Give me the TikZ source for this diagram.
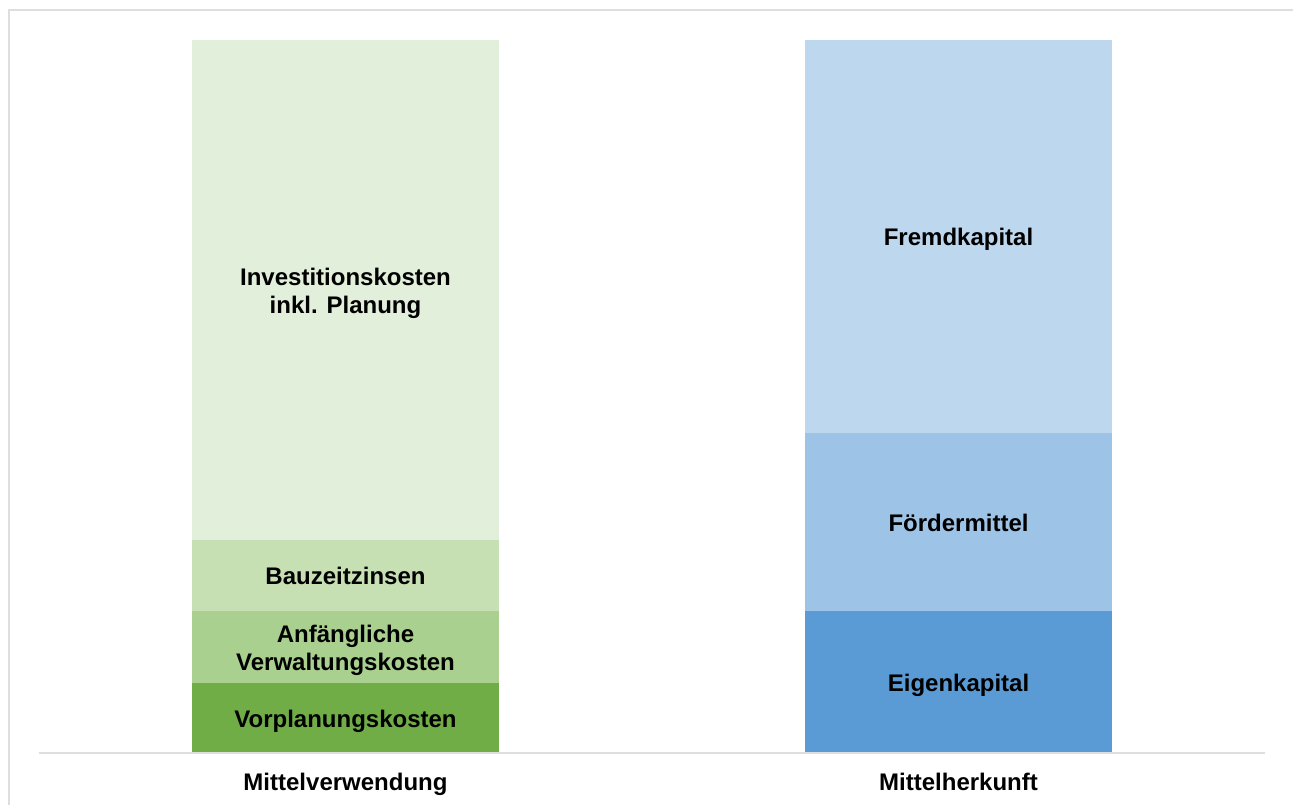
\documentclass[tikz,border=0pt]{standalone}
\usepackage{fontspec}
\setmainfont{Liberation Sans}
\usetikzlibrary{positioning}

\definecolor{gruen1}{HTML}{E2EFDA}
\definecolor{gruen2}{HTML}{C6E0B4}
\definecolor{gruen3}{HTML}{A9D08E}
\definecolor{gruen4}{HTML}{70AD47}
\definecolor{blau1}{HTML}{BDD7EE}
\definecolor{blau2}{HTML}{9DC3E6}
\definecolor{blau3}{HTML}{5B9BD5}
\definecolor{rahmen}{HTML}{DEDEDE}

\begin{document}
\begin{tikzpicture}[x=1pt, y=1pt,
    segment/.style={fill=#1, draw=#1, line width=0.6pt, inner sep=0pt, outer sep=0pt,
        minimum width=306.4pt, align=center, text height=19pt, text depth=0pt,
        font=\fontsize{24}{28}\selectfont\bfseries},
    zweizeilig/.style={text height=47pt},
    kategorie/.style={text height=18pt, text depth=0pt,
        font=\fontsize{24}{28}\selectfont\bfseries}]

\useasboundingbox (0,0) rectangle (1293,805);

% Rahmen
\draw[rahmen, line width=2pt] (9,0) -- (9,795) -- (1293,795);

% Mittelverwendung
\node[segment=gruen4, minimum height=69.4pt, anchor=south] (vorplanung) at (345.5,52.3) {Vorplanungskosten};
\node[segment=gruen3, zweizeilig, minimum height=71.4pt, above=0.6pt of vorplanung] (verwaltung) {Anfängliche\\Verwaltungskosten};
\node[segment=gruen2, minimum height=70.4pt, above=0.6pt of verwaltung] (bauzeit) {Bauzeitzinsen};
\node[segment=gruen1, zweizeilig, minimum height=499.4pt, above=0.6pt of bauzeit] (invest) {Investitionskosten\\inkl. Planung};

% Mittelherkunft
\node[segment=blau3, minimum height=141.4pt, anchor=south] (eigen) at (958.5,52.3) {Eigenkapital};
\node[segment=blau2, minimum height=177.4pt, above=0.6pt of eigen] (foerder) {Fördermittel};
\node[segment=blau1, minimum height=392.4pt, above=0.6pt of foerder] (fremd) {Fremdkapital};

% Achse
\coordinate (achseL) at (39,52);
\coordinate (achseR) at (1265,52);
\draw[rahmen, line width=1.5pt] (achseL) -- (achseR);

% Beschriftung
\node[kategorie] (verwendung) at (345.5,23) {Mittelverwendung};
\node[kategorie] (herkunft) at (958.5,23) {Mittelherkunft};

\end{tikzpicture}
\end{document}
